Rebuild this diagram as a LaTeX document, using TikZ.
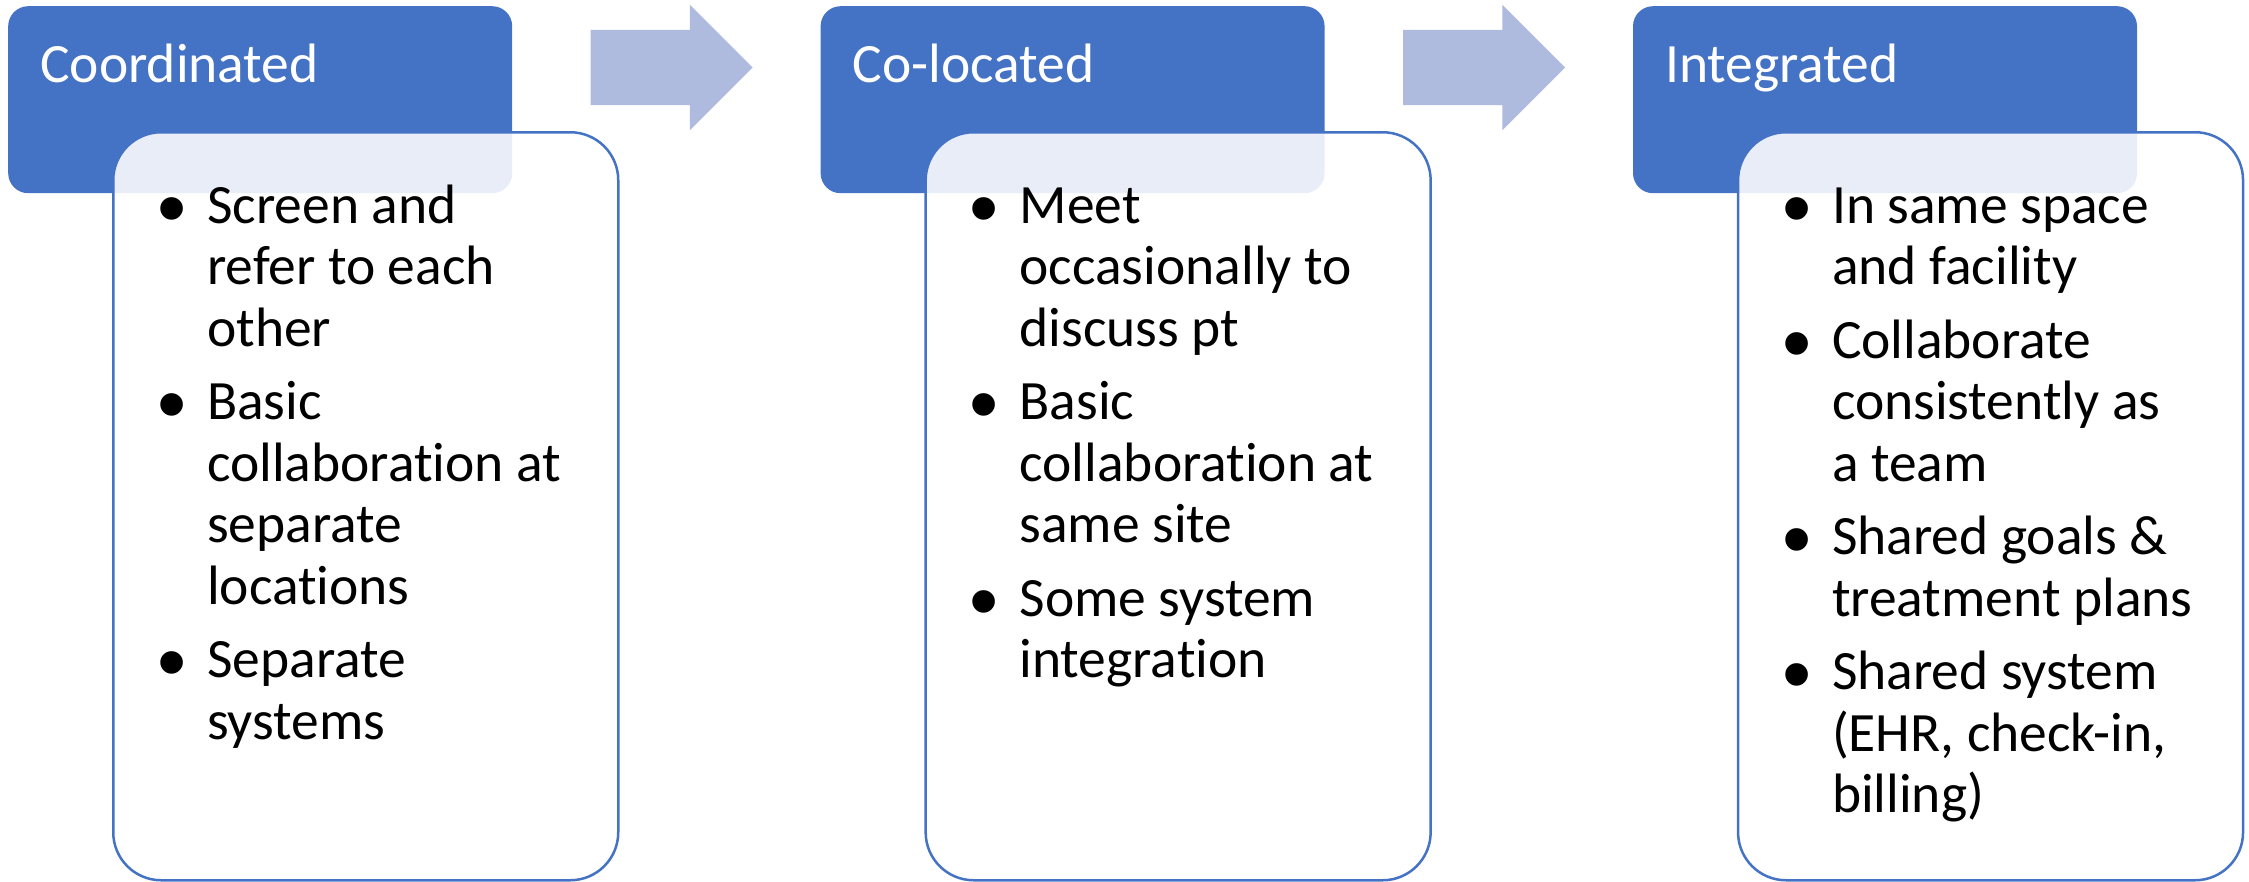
\documentclass[tikz,border=0pt]{standalone}
\usepackage{graphicx}
\usepackage{fontspec}
\setmainfont{Carlito}[Ligatures=NoCommon]
\newfontfamily\dotfont{Liberation Sans}
\usetikzlibrary{shapes.arrows,positioning}

\definecolor{hdblue}{RGB}{68,114,196}
\definecolor{arrowblue}{RGB}{174,187,222}

% bullet mark, then text column
\newcommand\bul{\hspace*{45pt}\raisebox{-13pt}{\scalebox{1.5}{\dotfont •}}}

\begin{document}
\begin{tikzpicture}
            [
            x=1pt, y=1pt,
            head/.style={rectangle, rounded corners=20pt, fill=hdblue,
                minimum width=504pt, minimum height=187pt, inner sep=0pt},
            card/.style={rectangle, rounded corners=48pt, draw=hdblue,
                line width=2.5pt, fill=white, fill opacity=0.88,
                minimum width=505pt, minimum height=748pt, inner sep=0pt},
            title/.style={text=white, inner sep=0pt,
                font=\fontsize{55.5}{63}\selectfont},
            points/.style={inner sep=0pt, font=\fontsize{55.5}{61.5}\selectfont},
            flow/.style={single arrow, single arrow head extend=25pt,
                fill=arrowblue, minimum height=162pt,
                inner xsep=0pt, inner ysep=37.5pt}
            ]
            \useasboundingbox (0,0) rectangle (2249,-881);

            \node (h1) [head, anchor=north west] at (8,-6) {};
            \node (h2) [head, right=308pt of h1] {};
            \node (h3) [head, right=308pt of h2] {};

            \foreach \i/\j in {1/2,2/3}
            \node (a\i) [flow, right=78pt of h\i.north east, yshift=-61.5pt] {};

            \foreach \i/\name in {1/Coordinated,2/Co-located,3/Integrated}
            \node (t\i) [title, below right=76pt and 32pt of h\i.north west,
                anchor=base west] {\name};

            \foreach \i in {1,2,3}
            \node (b\i) [card, below right=125pt and 104pt of h\i.north west] {};

            % bullet lists
            \node (l1) [points, below right=92pt and 0pt of b1.north west,
                anchor=base west] {%
                \begin{tabular}[t]{@{}p{95pt}@{}l@{}}
                \bul & Screen and\\
                     & refer to each\\
                     & other\\[12pt]
                \bul & Basic\\
                     & collaboration at\\
                     & separate\\
                     & locations\\[12pt]
                \bul & Separate\\
                     & systems
                \end{tabular}};
            \node (l2) [points, below right=92pt and 0pt of b2.north west,
                anchor=base west] {%
                \begin{tabular}[t]{@{}p{95pt}@{}l@{}}
                \bul & Meet\\
                     & occasionally to\\
                     & discuss pt\\[12pt]
                \bul & Basic\\
                     & collaboration at\\
                     & same site\\[12pt]
                \bul & Some system\\
                     & integration
                \end{tabular}};
            \node (l3) [points, below right=92pt and 0pt of b3.north west,
                anchor=base west] {%
                \begin{tabular}[t]{@{}p{95pt}@{}l@{}}
                \bul & In same space\\
                     & and facility\\[12pt]
                \bul & Collaborate\\
                     & consistently as\\
                     & a team\\[12pt]
                \bul & Shared goals \&\\
                     & treatment plans\\[12pt]
                \bul & Shared system\\
                     & (EHR, check-in,\\
                     & billing)
                \end{tabular}};
        \end{tikzpicture}
\end{document}
